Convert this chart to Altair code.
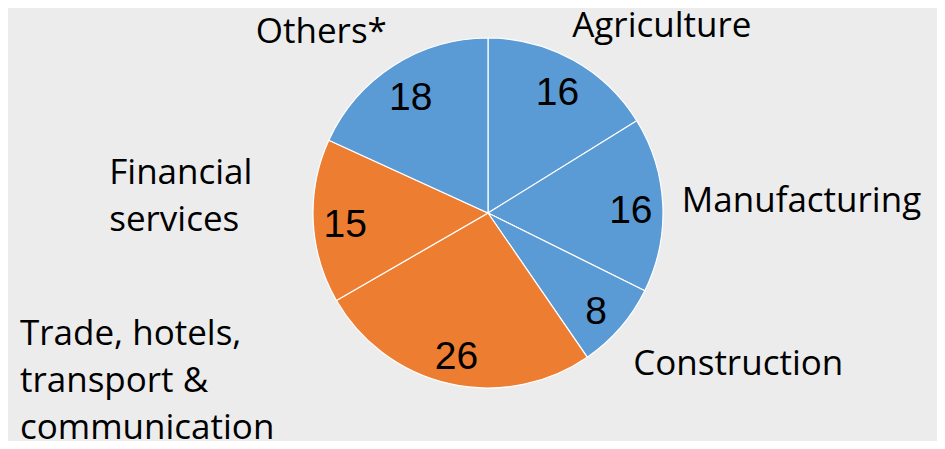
import altair as alt
import pandas as pd

# ---- data ----
categories = ["Agriculture", "Manufacturing", "Construction",
              "Trade, hotels, transport & communication", "Financial services", "Others*"]
label_lines = [["Agriculture"], ["Manufacturing"], ["Construction"],
               ["Trade, hotels,", "transport &", "communication"],
               ["Financial", "services"], ["Others*"]]
values = [16, 16, 8, 26, 15, 18]
groups = ["blue", "blue", "blue", "orange", "orange", "blue"]
order = [0, 1, 2, 3, 4, 5]

df = pd.DataFrame({
    "category": categories,
    "label": label_lines,
    "value": values,
    "group": groups,
    "order": order,
})

# ---- styling ----
BLUE = "#5b9bd5"
ORANGE = "#ed7d31"
PIE_R = 175
NUM_R = 143
LABEL_R = 200
LABEL_FONT = "Open Sans"
LABEL_SIZE = 35
# per-label nudges (align, dx, dy) to mimic the spreadsheet's label placement
label_style = {
    "Agriculture": ("left", -13, -1),
    "Manufacturing": ("left", -6, 9),
    "Construction": ("left", -6, 31),
    "Trade, hotels, transport & communication": ("left", -424, -63),
    "Financial services": ("left", -179, -39),
    "Others*": ("right", 7, -2),
}

theta_scale = alt.Scale(domain=[0, sum(values)])

base = (
    alt.Chart(df)
    .transform_window(cum="sum(value)", sort=[alt.SortField("order")], frame=[None, 0])
    .transform_calculate(start="datum.cum - datum.value", mid="datum.cum - datum.value / 2")
)

pie = base.mark_arc(radius=PIE_R, stroke="white", strokeWidth=1.2).encode(
    theta=alt.Theta("start:Q", scale=theta_scale),
    theta2="cum:Q",
    color=alt.Color("group:N", scale=alt.Scale(domain=["blue", "orange"], range=[BLUE, ORANGE]), legend=None),
)

numbers = base.mark_text(
    radius=NUM_R, font="Liberation Sans", fontSize=39, color="black",
    align="center", baseline="middle", dy=5,
).encode(
    theta=alt.Theta("mid:Q", scale=theta_scale),
    text="value:Q",
)

layers = [pie, numbers]
for cat in categories:
    align, dx, dy = label_style[cat]
    layers.append(
        base.transform_filter(alt.datum.category == cat)
        .mark_text(
            radius=LABEL_R, font=LABEL_FONT, fontSize=LABEL_SIZE, color="black",
            align=align, baseline="alphabetic", dx=dx, dy=dy, lineHeight=47,
        )
        .encode(theta=alt.Theta("mid:Q", scale=theta_scale), text="label")
    )

W = H = 360
chart = (
    alt.layer(*layers)
    .properties(
        width=W, height=H,
        autosize=alt.AutoSizeParams(type="none"),
        padding={"left": 300, "top": 25, "right": 269, "bottom": 48},
        background="#ececec",
    )
    .configure_view(stroke=None)
)

chart.save("out.html", embed_options={"renderer": "svg", "actions": False})
